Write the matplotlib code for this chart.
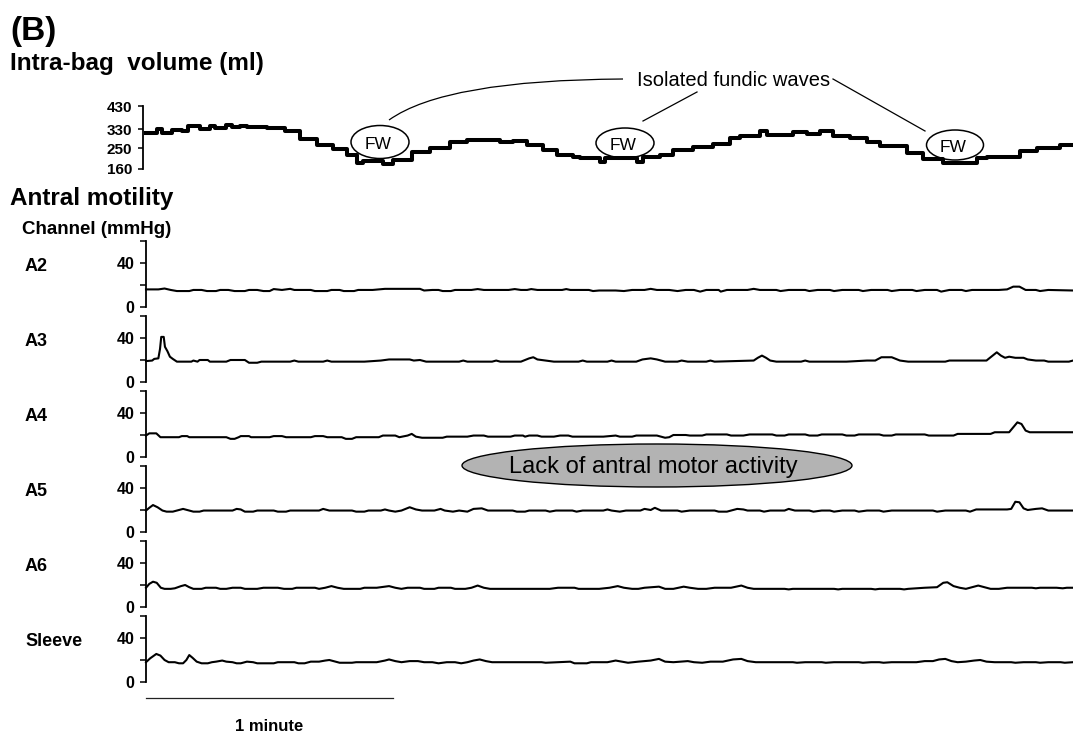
import matplotlib

matplotlib.use("Agg")
import matplotlib.pyplot as plt
from matplotlib import transforms
from matplotlib.patches import Ellipse, PathPatch
from matplotlib.path import Path

plt.rcParams["font.family"] = ["Liberation Sans", "DejaVu Sans"]

# Intra-bag volume (time s, volume ml), barostat steps
volume = [
    (0, 314), (2.7, 332), (3.9, 314), (6.3, 327), (8.7, 321), (10.2, 344),
    (13.1, 332), (15.5, 344), (16.7, 334), (19.4, 347), (20.9, 338), (22.8, 344),
    (24.5, 338), (29.4, 336), (33.7, 323), (37.4, 289), (41.5, 263), (45.4, 246),
    (48.8, 220), (51.2, 186), (52.7, 194), (57.5, 181), (60.0, 199), (64.6, 233),
    (68.9, 250), (73.8, 276), (77.9, 284), (85.9, 276), (89.1, 280), (92.5, 263),
    (96.4, 242), (99.8, 220), (103.6, 211), (105.3, 207), (110.2, 190), (111.4, 207),
    (119.2, 190), (120.6, 211), (124.8, 220), (127.9, 242), (132.8, 254), (137.6, 267),
    (141.7, 293), (144.2, 302), (149.0, 323), (150.7, 306), (157.0, 319), (160.4, 310),
    (163.6, 323), (166.7, 302), (170.9, 293), (175.0, 276), (178.2, 259), (184.7, 229),
    (188.6, 203), (193.4, 186), (201.7, 207), (204.1, 211), (212.1, 237), (216.3, 250),
    (221.8, 263), (225, 263),
]
volume_ticks = [160, 250, 330, 430]

# Antral pressure channels (time s, mmHg)
a2 = [
    (0, 16), (3, 16), (4.5, 16.8), (6, 15.5), (7.5, 14.5), (10.5, 14.5), (11.5, 15.5),
    (13.5, 15.5), (14.8, 14.5), (17, 14.5), (18, 15.5), (20, 15.5), (21.5, 14.5),
    (24, 14.5), (25, 15.5), (27, 15.5), (28.5, 14.5), (30, 14.5), (31, 16.3), (33, 15.5),
    (35, 16.5), (36, 15.5), (40, 15.5), (41, 14.5), (44, 14.5), (45, 15.5), (47, 15.5),
    (48, 14.5), (50.5, 14.5), (51.5, 15.5), (55, 15.5), (58, 16.5), (66.5, 16.5),
    (67.5, 15), (69.5, 15.5), (71, 15.5), (72, 14.5), (74, 14.5), (75, 15.5), (79, 15.5),
    (80.5, 16.3), (82, 15.5), (88, 15.5), (89.5, 16.3), (91, 15.5), (92.5, 15.5),
    (93.5, 16.3), (95, 15.5), (101, 15.5), (102, 16.3), (103, 15.5), (107.5, 15.5),
    (108.5, 14.5), (110, 15), (114, 15), (116, 14.5), (118, 15.5), (121, 15.5),
    (122.5, 16.5), (124, 15.5), (127, 15.5), (129, 14.5), (131, 15.5), (133, 15.5),
    (134.5, 14), (136, 15.5), (139, 15.5), (139.5, 14), (141, 15.5), (146, 15.5),
    (147.5, 16.5), (149, 15.5), (153, 15.5), (154, 14.5), (156, 15.5), (160, 15.5),
    (161, 14.5), (163, 15.5), (166, 15.5), (167, 14.5), (169, 15.5), (173, 15.5),
    (174, 14.5), (176, 15.5), (180, 15.5), (181, 14.5), (183, 15.5), (186, 15.5),
    (187, 14.5), (189, 15.5), (192, 15.5), (193, 14), (195, 15.5), (198, 15.5),
    (199, 14.5), (200.5, 15.5), (207, 15.5), (209, 16), (210.5, 18.5), (212, 18.5),
    (213.5, 15.5), (216, 15.5), (217, 14.5), (219, 15.5), (225, 15),
]
a3 = [
    (0, 19), (1.5, 19.5), (2, 21), (3, 21.5), (3.4, 30), (3.7, 41), (4.3, 41), (4.6, 32),
    (5.2, 28), (5.8, 23), (6.5, 21), (7.5, 18.5), (11, 18.5), (11.5, 19.5), (12.5, 18.5),
    (13, 20), (15, 20), (15.5, 18.5), (19.5, 18.5), (20.5, 20), (24, 20), (25, 17.5),
    (27, 17.5), (28, 18.5), (35, 18.5), (36, 19.5), (37, 18.5), (43, 18.5), (44, 19.5),
    (45, 18.5), (53, 18.5), (57, 19.5), (59, 20.5), (64, 20.5), (65, 19.5), (66.5, 20),
    (68, 18.5), (76, 18.5), (77, 19.5), (78, 18.5), (84, 18.5), (85, 19.5), (86, 18.5),
    (91, 18.5), (93, 21.5), (94, 22.5), (95, 20.5), (97, 19.5), (99, 18.5), (105, 18.5),
    (106, 19.5), (107, 18.5), (112, 18.5), (113, 19.5), (114, 18.5), (119, 18.5),
    (120.5, 20.5), (122.5, 21.5), (124, 20.5), (126, 18.5), (129, 18.5), (130, 19.5),
    (131.5, 18.5), (136, 18.5), (137, 19.5), (138, 18.5), (147.5, 19.5), (148.5, 22),
    (149.5, 24), (150.5, 22), (151.5, 19.5), (153, 18.5), (159, 18.5), (160, 19.5),
    (161, 18.5), (170, 18.5), (175, 19.5), (177, 19.5), (178.5, 22.5), (181, 22.5),
    (183, 19.5), (185, 18.5), (194, 18.5), (195, 19.5), (204, 19.5), (205.5, 24),
    (206.5, 27), (207.5, 24), (208.5, 22), (209.5, 23), (211, 22), (213, 22),
    (214, 20.5), (216, 19.5), (218, 19.5), (219, 18.5), (224, 18.5), (225, 19.5),
]
a4 = [
    (0, 19.5), (0.8, 21.5), (2.5, 21.5), (3.5, 18), (8, 18), (8.7, 19), (10, 19),
    (10.5, 18), (19.5, 18), (20.5, 16.5), (21.5, 16.5), (22.5, 18), (23, 19), (25, 19),
    (25.5, 18), (30, 18), (31, 19), (33, 19), (34, 18), (40, 18), (41, 19), (43, 19),
    (44, 18), (47.5, 18), (48.5, 16.5), (50, 16.5), (51, 18), (56.5, 18), (57.5, 19.5),
    (60.5, 19.5), (61.5, 18), (63.5, 19.5), (64.5, 21), (65.5, 18.5), (67, 17.5),
    (72, 17.5), (73, 18.5), (78, 18.5), (79.5, 19.5), (82, 19.5), (83, 18.5), (88.5, 18.5),
    (89.5, 19.5), (91.5, 19.5), (92, 18.5), (93, 19.5), (95, 19.5), (96, 18.5), (99, 18.5),
    (100.5, 19.5), (102.5, 19.5), (103.5, 18.5), (111, 18.5), (114, 19.5), (115, 18.5),
    (118, 18.5), (119, 19.5), (124, 19.5), (125, 18.5), (126, 17.5), (127, 18), (128, 20),
    (131, 20), (132, 19.5), (135, 19.5), (136, 20.5), (141, 20.5), (142, 19.5),
    (145, 19.5), (146.5, 20.5), (152, 20.5), (153, 19.5), (155, 19.5), (156, 20.5),
    (160, 20.5), (161, 19.5), (163, 19.5), (164, 20.5), (169, 20.5), (170, 19.5),
    (172, 19.5), (173, 20.5), (178, 20.5), (179, 19.5), (181, 19.5), (182, 20.5),
    (189, 20.5), (190, 19.5), (196, 19.5), (197, 21), (205, 21), (206, 22.5),
    (209.5, 22.5), (210.5, 27), (211.5, 31.5), (212.5, 30), (213.5, 24), (214.5, 22.5),
    (225, 22.5),
]
a5 = [
    (0, 19.5), (0.8, 22), (1.7, 24.5), (2.8, 22.5), (4, 19.5), (5, 18.5), (6.5, 18.5),
    (7.5, 19.5), (9, 21), (10, 20), (11.5, 18.5), (13, 18.5), (14, 19.5), (21, 19.5),
    (22, 21), (23, 20.5), (24, 18.5), (26, 18.5), (27, 19.5), (31, 19.5), (32, 18.5),
    (34, 18.5), (35, 19.5), (42, 19.5), (43, 21), (44.5, 19.5), (50, 19.5), (51, 18.5),
    (53, 18.5), (54, 19.5), (57, 19.5), (58, 20.5), (59, 19.5), (60.5, 18.5), (62, 19.5),
    (64, 22.5), (65.5, 20.5), (67, 19.5), (70, 19.5), (71.5, 21), (72.5, 19.5),
    (74.5, 18.5), (76, 19.5), (78, 18.5), (79.5, 21), (81.5, 21.5), (83, 19.5),
    (89, 19.5), (90, 18.5), (92, 18.5), (93, 19.5), (97, 19.5), (98, 18.5), (99.5, 19.5),
    (103.5, 19.5), (104.5, 18.5), (106, 19.5), (111, 19.5), (112, 20.5), (113, 19.5),
    (115, 18.5), (116.5, 19.5), (120, 19.5), (121, 21), (122.5, 20), (123.5, 22),
    (125, 19.5), (129, 19.5), (130, 18.5), (132, 19.5), (138, 19.5), (139, 18.5),
    (141, 18.5), (142, 19.5), (143.5, 21), (145, 20.5), (146, 19.5), (149, 19.5),
    (150, 18.5), (151.5, 19.5), (155, 19.5), (156, 21), (157.5, 19.5), (161, 19.5),
    (162, 18.5), (164, 19.5), (166, 19.5), (167, 18.5), (169, 19.5), (172, 19.5),
    (173, 18.5), (175, 19.5), (178, 19.5), (179, 18.5), (181, 19.5), (191, 19.5),
    (192, 18.5), (194, 19.5), (199, 19.5), (200, 18.5), (201.5, 20.5), (209, 20.5),
    (210, 21), (211, 27.5), (212, 27), (213, 21.5), (214, 20), (216, 21), (217.5, 21.5),
    (219, 19.5), (225, 19.5),
]
a6 = [
    (0, 17.5), (0.8, 21), (1.7, 23), (2.6, 22), (3.6, 17.5), (4.5, 16.5), (6, 16.5),
    (7, 17), (8.5, 19), (9.5, 20), (10.5, 18), (11.5, 16.5), (13.5, 16.5), (14.5, 17.5),
    (17, 17.5), (18, 16.5), (19.5, 16.5), (21, 17.5), (23, 17.5), (24, 16.5), (27, 16.5),
    (28.5, 17.5), (32, 17.5), (33.5, 16.5), (35.5, 16.5), (36.5, 17.5), (41, 17.5),
    (42, 16.5), (43.5, 17.5), (45, 19), (46.5, 17.5), (48, 16.5), (52, 16.5), (53, 17.5),
    (56, 17.5), (58, 18.5), (59, 19), (60.5, 17.5), (62, 16.5), (63.5, 17.5), (66.5, 17.5),
    (67.5, 16.5), (70, 16.5), (71, 17.5), (74, 17.5), (75, 16.5), (77.5, 16.5),
    (79, 17.5), (80.5, 19.5), (82, 17.5), (83.5, 16.5), (98, 16.5), (100, 17.5),
    (104, 17.5), (105, 16.5), (110, 16.5), (112.5, 17.5), (114.5, 19), (116, 17.5),
    (118, 16.5), (119.5, 16.5), (121, 17.5), (124.5, 18.5), (126, 16.5), (128, 16.5),
    (130.5, 18.5), (132, 17.5), (134, 16.5), (136, 16.5), (138, 17.5), (142, 17.5),
    (144.5, 19.5), (146, 17.5), (147.5, 16.5), (155, 16.5), (156, 16), (157, 16.5),
    (167, 16.5), (168, 16), (169, 16.5), (176, 16.5), (177, 16), (178, 16.5),
    (183, 16.5), (184, 16), (185, 16.5), (189, 17.5), (192, 18), (193.5, 22),
    (194.5, 22.5), (196, 19), (197.5, 17.5), (199, 16.5), (200.5, 18), (202, 19.5),
    (203.5, 18), (205, 16.5), (207, 16.5), (209, 17.5), (215, 17.5), (216, 17),
    (217, 17.5), (221, 17.5), (222.5, 17), (223.5, 17.5), (225, 17.5),
]
sleeve = [
    (0, 18), (1, 21.5), (2.5, 25.5), (3.5, 24), (4.5, 20), (5.5, 18), (7, 18), (8, 17),
    (9, 17), (9.8, 20), (10.5, 24.5), (11.3, 22), (12.3, 18.5), (13.5, 17), (15, 17),
    (16, 18), (17, 18.5), (18.5, 19.5), (19.5, 18.5), (21, 18), (22, 17), (23, 17),
    (24.5, 18.5), (26, 18), (27, 17), (31, 17), (32, 18), (36, 18), (37, 17), (38.5, 17),
    (40, 18.5), (42, 18.5), (43.5, 19.5), (44.5, 20), (46, 18.5), (47, 17.5), (50, 17.5),
    (51, 18), (56, 18), (58, 19.5), (59, 20.5), (60.5, 19), (62, 18), (64, 19), (66, 19),
    (67.5, 18), (69.5, 18), (71, 17), (73, 18), (75, 18), (76.5, 17), (78, 18),
    (79.5, 19.5), (81, 20.5), (82.5, 19), (84, 18), (96, 18), (97, 17.5), (100, 18),
    (103, 18.5), (104, 17), (107, 17), (108, 18), (112, 18), (114, 19.5), (115.5, 18.5),
    (117, 17.5), (119.5, 18.5), (122.5, 19.5), (124.5, 21), (126, 18.5), (128, 18),
    (131.5, 19), (133, 18), (135, 17.5), (137, 18.5), (140, 18.5), (142.5, 20.5),
    (144.5, 21), (146, 19), (148, 18), (157, 18), (158, 17.5), (160, 18), (164, 18),
    (165, 17.5), (167, 18), (173, 18), (174, 17.5), (176, 18), (178, 18), (179, 17.5),
    (181, 18), (187, 18), (189, 19), (191, 19), (192.5, 20.5), (194, 21), (195.5, 19),
    (197, 18), (199, 18.5), (201, 19.5), (202.5, 20), (204, 18.5), (206, 18), (210, 18),
    (211, 17.5), (213, 18), (216, 18), (217, 17.5), (219, 18), (222, 18), (223, 17.5),
    (225, 18),
]
channels = ["A2", "A3", "A4", "A5", "A6", "Sleeve"]
traces = [a2, a3, a4, a5, a6, sleeve]
pressure_ticks = [0, 20, 40, 60]
pressure_labels = ["0", "", "40", ""]

W, H = 1073, 734
fig = plt.figure(figsize=(W / 100, H / 100), dpi=100)


def px_axes(left, top, width, height, **kw):
    return fig.add_axes([left / W, 1 - (top + height) / H, width / W, height / H], **kw)


# full-figure layer in pixel units for titles and call-outs
ov = fig.add_axes([0, 0, 1, 1], zorder=0)
ov.set_xlim(0, W)
ov.set_ylim(H, 0)
ov.axis("off")


def left_spine_only(ax, tick_len):
    for side in ("top", "right", "bottom"):
        ax.spines[side].set_visible(False)
    ax.spines["left"].set_linewidth(1.3)
    ax.patch.set_visible(False)
    ax.set_xticks([])
    ax.tick_params(axis="y", direction="out", length=tick_len, width=1.1, pad=4.5)


# --- intra-bag volume ---
axv = px_axes(143, 106, 930, 63, zorder=2)
vt, vml = zip(*volume)
axv.step(vt, vml, where="post", color="black", lw=2.9, clip_on=False)
axv.set_xlim(-0.7, 225)
axv.set_ylim(160, 430)
axv.set_yticks(volume_ticks)
axv.set_yticklabels([str(v) for v in volume_ticks], weight="bold", fontsize=11)
left_spine_only(axv, 3.5)

# --- antral channels ---
for i, (name, trace) in enumerate(zip(channels, traces)):
    y0 = 307 + 75 * i
    ax = px_axes(146, y0 - 66, 927, 66, zorder=2)
    t, p = zip(*trace)
    ax.plot(t, p, color="black", lw=1.5, clip_on=False)
    ax.set_xlim(0, 225)
    ax.set_ylim(0, 60)
    ax.set_yticks(pressure_ticks)
    ax.set_yticklabels(pressure_labels, weight="bold", fontsize=11.5)
    left_spine_only(ax, 4)
    lbl = transforms.blended_transform_factory(ov.transData, ax.transData)
    ax.text(25, 37, name, transform=lbl, weight="bold", fontsize=13,
            ha="left", va="center")

# one-minute scale bar under the sleeve trace
bar = transforms.blended_transform_factory(ax.transData, ov.transData)
ax.plot([0, 60], [698, 698], color="#222222", lw=0.9, transform=bar, clip_on=False)
ax.text(30, 731, "1 minute", transform=bar, weight="bold", fontsize=12,
        ha="center", va="baseline")

# --- headings ---
ov.text(10, 40, "(B)", weight="bold", fontsize=24, va="baseline")
ov.text(10, 70, "Intra-bag  volume (ml)", weight="bold", fontsize=17.5, va="baseline")
ov.text(10, 205, "Antral motility", weight="bold", fontsize=17.5, va="baseline")
ov.text(22, 234, "Channel (mmHg)", weight="bold", fontsize=13.5, va="baseline")

# --- fundic wave call-outs ---
ov.text(734, 86, "Isolated fundic waves", fontsize=14.5, ha="center", va="baseline")
ov.add_patch(PathPatch(Path([(389, 120), (445, 80), (623, 79)],
                            [Path.MOVETO, Path.CURVE3, Path.CURVE3]),
                       fill=False, lw=0.9, color="black"))
ov.plot([643, 697], [121, 92], color="black", lw=0.9)
ov.plot([833, 925], [79, 131], color="black", lw=0.9)
for cx, cy, w, h in [(380, 142, 58, 33), (625, 143, 58, 30), (955, 145, 57, 30)]:
    ov.add_patch(Ellipse((cx, cy), w, h, facecolor="white", edgecolor="black", lw=1.1))
    ov.text(cx - 2, cy + 7, "FW", fontsize=12.5, ha="center", va="baseline")

# gray banner across the antral channels
ov.add_patch(Ellipse((657, 465.5), 390, 43, facecolor="#b3b3b3", edgecolor="black",
                     lw=1.0, zorder=3))
ov.text(653, 473, "Lack of antral motor activity", fontsize=17, ha="center",
        va="baseline", zorder=4)

fig.savefig("out.png", dpi=100)
plt.close(fig)
